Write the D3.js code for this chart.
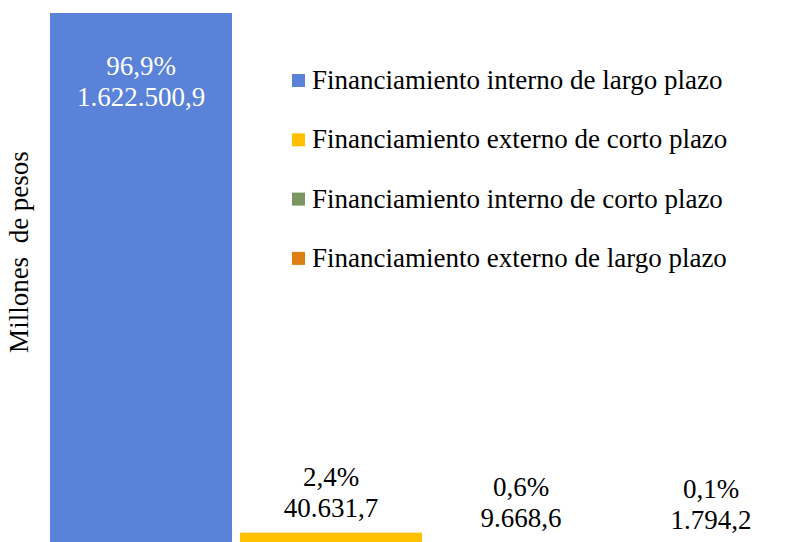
<!DOCTYPE html>
<html>
<head>
<meta charset="utf-8">
<script src="https://cdn.jsdelivr.net/npm/d3@7"></script>
<style>
body { margin: 0; background: #fff; }
</style>
</head>
<body>
<div class="chart"></div>
<script>
var categories = [
	'Financiamiento interno de largo plazo',
	'Financiamiento externo de corto plazo',
	'Financiamiento interno de corto plazo',
	'Financiamiento externo de largo plazo'];

var values = [1622500.9, 40631.7, 9668.6, 1794.2];

var percentLabels = ['96,9%', '2,4%', '0,6%', '0,1%'];

var valueLabels = ['1.622.500,9', '40.631,7', '9.668,6', '1.794,2'];

var colors = ['#5982d8', '#ffc000', '#7b9660', '#df7f13'];

var width = 799, height = 542;

var fontFamily = "'Liberation Serif', Tinos, 'Times New Roman', serif";

var svg = d3.select(".chart")
	.append("svg")
		.attr("width", width)
		.attr("height", height)
		.attr("font-family", fontFamily);

var x = d3.scaleBand()
	.domain(categories)
	.range([50, 802])
	.paddingInner(8 / 190)
	.paddingOuter(0);

//baseline sits a bit under the bottom edge of the picture
var y = d3.scaleLinear()
	.domain([0, values[0]])
	.range([546, 13]);

//bars
svg.selectAll(".bar")
	.data(categories)
	.enter()
		.append("rect")
			.attr("class", "bar")
			.attr("x", function(d){ return x(d); })
			.attr("y", function(d, i){ return y(values[i]); })
			.attr("width", x.bandwidth())
			.attr("height", function(d, i){ return y(0) - y(values[i]); })
			.attr("fill", function(d, i){ return colors[i]; });

//data labels: inside the first bar, above the others
var labels = svg.selectAll(".label")
	.data(categories)
	.enter()
		.append("text")
			.attr("class", "label")
			.attr("text-anchor", "middle")
			.attr("font-size", "27px")
			.attr("fill", function(d, i){ return i == 0 ? "#fff" : "#000"; });

labels.each(function(d, i){
	var cx = x(d) + x.bandwidth() / 2;
	var top = y(values[i]);
	var base2;
	if(i == 0){
		base2 = top + 93;
	}
	else {
		base2 = Math.min(top - 16, 538);
	}
	var t = d3.select(this);
	t.append("tspan").attr("x", cx).attr("y", base2 - 31).text(percentLabels[i]);
	t.append("tspan").attr("x", cx).attr("y", base2).text(valueLabels[i]);
});

//legend
var legend = svg.selectAll(".legend")
	.data(categories)
	.enter()
		.append("g")
			.attr("class", "legend")
			.attr("transform", function(d, i){
				return "translate(292," + (74 + i * 59.3) + ")";
			});

legend.append("rect")
	.attr("width", 13)
	.attr("height", 13)
	.attr("fill", function(d, i){ return colors[i]; });

legend.append("text")
	.attr("x", 20)
	.attr("y", 15)
	.attr("font-size", "27px")
	.attr("fill", "#000")
	.text(function(d){ return d; });

//y axis title
svg.append("text")
	.attr("transform", "translate(28,252) rotate(-90)")
	.attr("text-anchor", "middle")
	.attr("font-size", "27px")
	.attr("fill", "#000")
	.style("white-space", "pre")
	.text("Millones  de pesos");
</script>
</body>
</html>
